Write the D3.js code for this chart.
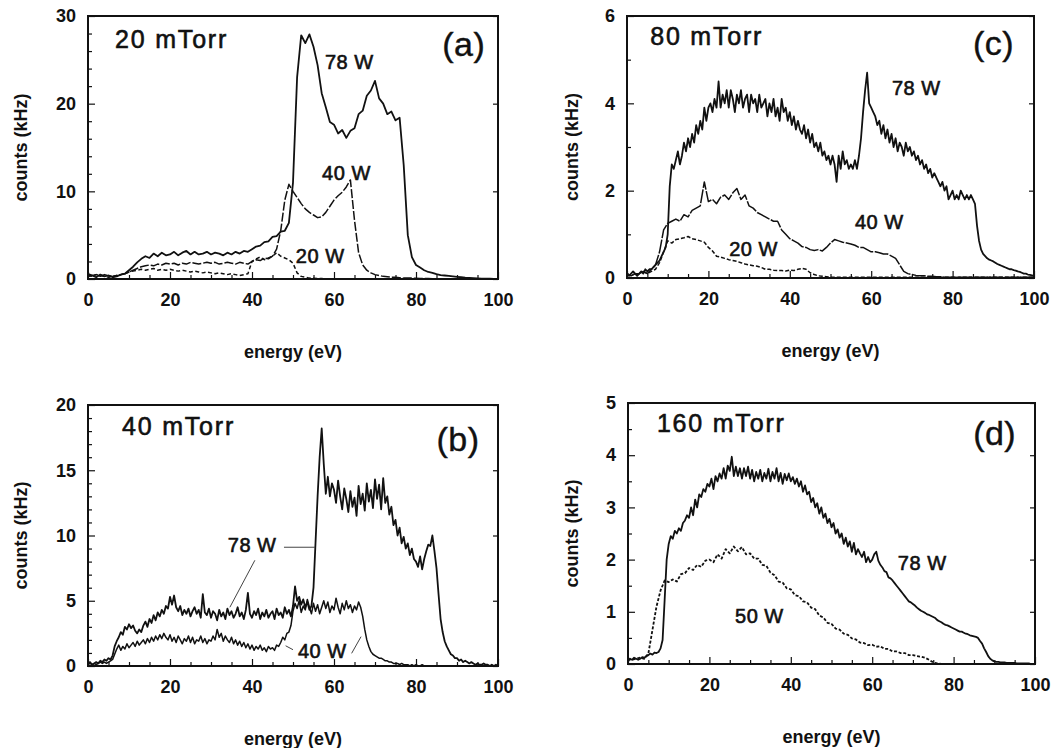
<!DOCTYPE html>
<html>
<head>
<meta charset="utf-8">
<script src="https://cdn.jsdelivr.net/npm/d3@7"></script>
<style>
  html, body { margin: 0; padding: 0; background: #fff; }
  svg { display: block; }
  text { font-family: "Liberation Sans", Arial, Helvetica, sans-serif; fill: #111; }
</style>
</head>
<body>
<svg id="chart" width="1055" height="748"></svg>
<script>
// Ion energy spectra: counts vs. energy at four pressures and several RF powers.

// energy channels (eV)
const energyCoarse = d3.range(0, 101, 1);
const energyFine = d3.range(0, 100.25, 0.5);

const xTicks = [0, 20, 40, 60, 80, 100];

// (a) 20 mTorr, 1 eV channels
const a78 = [0.3,0.4,0.2,0.5,0.3,0.4,0.2,0.3,0.5,0.6,
  1.0,1.4,1.9,2.3,2.6,2.4,2.9,2.6,3.0,2.7,
  2.8,3.1,2.7,3.0,3.2,2.8,3.1,2.8,2.9,3.1,
  2.8,3.0,2.9,2.7,3.0,2.8,3.1,2.9,3.2,3.1,
  3.4,3.7,3.8,4.2,4.3,4.8,4.9,5.4,5.5,6.4,
  11.0,23.0,27.8,26.9,27.9,26.5,24.4,21.2,19.6,17.9,
  17.6,16.6,17.0,16.1,16.9,17.2,18.8,19.2,20.9,21.5,
  22.6,20.6,20.0,18.8,19.1,18.1,18.4,13.0,5.0,2.5,
  1.6,1.3,1.0,0.8,0.7,0.55,0.45,0.4,0.35,0.3,
  0.25,0.2,0.15,0.12,0.1,0.08,0.05,0.05,0.03,0.02,0.0];
const a40 = [0.6,0.4,0.5,0.3,0.5,0.4,0.3,0.4,0.5,0.6,
  0.8,1.0,1.2,1.4,1.5,1.6,1.5,1.7,1.6,1.8,
  1.7,1.8,1.6,1.8,1.7,1.9,1.8,1.7,1.8,1.9,
  1.8,1.9,1.7,1.8,1.9,1.8,1.7,1.9,1.8,1.7,
  2.0,2.2,2.1,2.4,2.3,2.6,3.4,5.5,9.0,10.8,
  10.0,9.3,8.6,8.0,7.6,7.3,7.0,7.1,7.6,8.3,
  9.0,9.5,9.9,10.5,11.3,6.7,3.0,1.6,1.0,0.7,
  0.5,0.4,0.3,0.25,0.2,0.2,0.15,0.1,0.1,0.1,
  0.08,0.06,0.05,0.05,0.04,0.03,0.03,0.02,0.02,0.02,
  0.02,0.01,0.01,0.01,0.01,0.0,0.0,0.0,0.0,0.0,0.0];
const a20 = [0.4,0.3,0.5,0.4,0.3,0.2,0.3,0.4,0.5,0.6,
  0.8,0.9,1.0,1.1,1.0,1.1,1.2,1.0,1.1,1.0,
  1.1,1.0,0.9,1.0,0.9,0.8,0.9,0.8,0.7,0.8,
  0.7,0.6,0.7,0.6,0.5,0.6,0.5,0.4,0.5,0.6,
  2.0,2.3,2.5,2.2,2.4,2.6,3.0,2.6,2.4,2.2,
  1.8,0.7,0.3,0.2,0.1,0.1,0.05,0.05,0.0,0.0,
  0,0,0,0,0,0,0,0,0,0,
  0,0,0,0,0,0,0,0,0,0,
  0,0,0,0,0,0,0,0,0,0,
  0,0,0,0,0,0,0,0,0,0,0];

// (b) 40 mTorr, 0.5 eV channels
const b78 = [0.2,0.3,0.1,0.2,0.3,0.2,0.4,0.3,0.5,0.4,
  0.6,0.5,0.8,1.5,1.9,2.2,2.6,2.4,3.0,2.8,
  3.2,2.9,3.1,2.7,2.5,2.8,2.6,3.1,3.4,3.0,
  3.6,3.3,3.9,3.5,4.1,3.8,4.3,4.0,4.6,4.4,
  5.3,4.7,5.4,4.5,4.2,4.6,3.9,4.3,4.0,4.4,
  3.8,4.2,4.5,4.0,4.3,3.7,5.5,4.1,3.9,4.4,
  3.7,4.2,4.0,3.5,4.3,3.8,4.1,3.6,4.4,3.9,
  4.2,3.7,4.0,4.5,3.8,4.1,3.6,4.3,5.6,4.0,
  3.7,4.2,3.9,4.4,3.6,4.1,3.8,4.3,3.7,4.0,
  4.2,3.6,4.4,3.9,4.1,3.7,4.5,4.0,4.3,3.8,
  4.6,6.1,5.0,5.3,4.7,5.1,4.5,4.9,4.3,4.6,
  6.0,9.5,13.0,16.0,18.2,15.5,13.2,14.5,13.0,14.0,
  13.5,12.5,14.2,13.0,12.0,13.6,12.8,11.8,13.4,12.2,
  12.9,11.5,13.8,12.4,13.2,11.9,14.0,12.6,13.5,12.1,
  14.3,12.8,13.9,12.0,14.4,12.5,13.0,11.6,12.2,10.8,
  11.2,10.0,10.6,9.4,9.9,9.0,9.4,8.5,9.0,8.2,
  8.0,7.6,8.4,7.4,8.2,8.8,9.3,9.2,10.0,8.8,
  7.5,5.5,3.6,2.6,1.9,1.5,1.2,0.9,0.8,0.6,
  0.6,0.4,0.5,0.3,0.4,0.3,0.2,0.3,0.2,0.1,
  0.2,0.1,0.1,0.2,0.1,0.1,0.0,0.1,0.0,0.1,
  0.0];
const b40 = [0.1,0.2,0.1,0.2,0.1,0.2,0.3,0.2,0.3,0.2,
  0.3,0.4,0.5,0.9,1.3,1.6,1.2,1.5,1.3,1.7,
  1.4,1.6,1.8,1.5,1.9,1.6,1.8,2.0,1.7,2.1,
  1.8,2.2,1.9,2.3,2.0,2.4,2.1,2.5,2.2,2.0,
  2.4,1.9,2.2,1.8,2.3,2.0,1.7,2.1,1.9,2.3,
  1.8,2.2,1.7,2.0,1.9,2.3,1.8,2.1,1.7,2.0,
  1.9,2.3,2.0,2.8,2.2,2.5,1.9,2.3,2.0,1.8,
  2.2,1.7,2.0,1.6,1.9,1.5,1.8,1.4,1.7,1.3,
  1.6,1.2,1.5,1.3,1.6,1.2,1.4,1.1,1.5,1.3,
  1.4,1.2,1.6,1.5,1.8,2.2,2.0,2.5,2.6,3.1,
  4.2,4.8,4.4,5.0,4.1,4.6,4.3,5.1,4.5,4.0,
  4.8,4.2,4.7,4.0,4.5,5.0,4.4,4.9,4.1,4.6,
  4.3,5.2,4.5,4.0,4.8,4.3,5.0,4.4,4.7,4.1,
  4.6,4.3,4.9,4.5,3.8,2.8,2.0,1.5,1.1,0.9,
  0.8,0.7,0.6,0.6,0.5,0.4,0.4,0.3,0.3,0.2,
  0.2,0.2,0.1,0.2,0.1,0.1,0.1,0.0,0.1,0.0,
  0.1,0.0,0.0,0.1,0.0,0.0,0.0,0.0,0.0,0.0,
  0,0,0,0,0,0,0,0,0,0,
  0,0,0,0,0,0,0,0,0,0,
  0,0,0,0,0,0,0,0,0,0,
  0];

// (c) 80 mTorr
const c78 = [0.1,0.05,0.1,0.15,0.1,0.05,0.1,0.15,0.1,0.2,
  0.15,0.2,0.2,0.25,0.3,0.35,0.4,0.5,0.6,0.7,
  1.0,2.1,2.6,2.5,2.7,2.9,2.6,2.8,3.1,2.9,
  3.2,3.0,3.3,3.1,3.5,3.3,3.6,3.4,3.9,3.6,
  3.9,4.0,3.8,4.1,3.9,4.5,3.9,4.2,4.0,4.3,
  3.9,4.3,4.1,3.8,4.2,4.0,4.3,3.9,4.1,4.2,
  3.8,4.2,4.0,4.1,3.8,4.2,3.9,4.0,4.1,3.7,
  4.0,3.8,4.1,3.7,3.9,3.6,4.1,3.8,3.9,3.6,
  3.8,3.5,3.7,3.4,3.6,3.4,3.3,3.5,3.2,3.4,
  3.1,3.3,3.0,3.1,2.9,3.1,2.8,2.9,2.7,2.8,
  2.6,2.8,2.6,2.2,2.8,2.5,2.9,2.6,2.7,2.5,
  2.6,2.5,2.7,2.5,2.8,3.2,3.8,4.3,4.7,4.0,
  3.9,3.8,3.7,3.5,3.6,3.3,3.5,3.2,3.4,3.1,
  3.3,3.0,3.2,2.9,3.1,3.0,2.8,3.1,2.9,3.0,
  2.8,2.9,2.7,2.8,2.6,2.7,2.5,2.6,2.4,2.5,
  2.3,2.4,2.3,2.2,2.1,2.2,2.0,2.1,1.8,1.9,
  2.0,1.8,1.9,1.8,2.0,1.9,1.8,1.9,1.8,1.9,
  1.8,1.7,1.2,0.85,0.65,0.55,0.5,0.45,0.42,0.4,
  0.38,0.35,0.32,0.3,0.28,0.26,0.24,0.22,0.2,0.2,
  0.18,0.17,0.15,0.14,0.12,0.1,0.1,0.08,0.07,0.06,
  0.05];
const c40 = [0.1,0.05,0.1,0.1,0.15,0.1,0.2,0.3,0.6,1.1,
  1.25,1.3,1.35,1.3,1.45,1.4,1.55,1.6,1.65,2.2,
  1.75,1.8,1.7,1.85,1.9,1.8,1.95,2.05,1.8,1.9,
  1.65,1.6,1.5,1.45,1.4,1.35,1.3,1.3,1.1,1.0,
  0.9,0.85,0.8,0.72,0.7,0.65,0.63,0.65,0.62,0.7,
  0.8,0.88,0.85,0.82,0.8,0.78,0.75,0.7,0.7,0.65,
  0.6,0.6,0.58,0.55,0.55,0.5,0.45,0.3,0.15,0.1,
  0.08,0.06,0.05,0.05,0.04,0.04,0.03,0.03,0.02,0.02,
  0.02,0.02,0.02,0.02,0.02,0.02,0.02,0.02,0.02,0.02,
  0.02,0.02,0.02,0.02,0.02,0.02,0.02,0.02,0.02,0.02,0.02];
const c20 = [0.1,0.05,0.1,0.1,0.15,0.1,0.15,0.2,0.35,0.6,
  0.85,0.8,0.88,0.9,0.92,0.95,0.9,0.88,0.85,0.82,
  0.7,0.62,0.5,0.48,0.45,0.42,0.4,0.38,0.35,0.32,
  0.3,0.28,0.27,0.24,0.2,0.2,0.18,0.17,0.17,0.16,
  0.18,0.17,0.2,0.22,0.2,0.12,0.08,0.05,0.04,0.03,
  0.02,0.02,0.02,0.02,0.02,0.02,0.02,0.02,0.02,0.02,
  0.02,0.02,0.02,0.02,0.02,0.02,0.02,0.02,0.02,0.02,
  0.02,0.02,0.02,0.02,0.02,0.02,0.02,0.02,0.02,0.02,
  0.02,0.02,0.02,0.02,0.02,0.02,0.02,0.02,0.02,0.02,
  0.02,0.02,0.02,0.02,0.02,0.02,0.02,0.02,0.02,0.02,0.02];

// (d) 160 mTorr
const d78 = [0.05,0.1,0.08,0.12,0.1,0.08,0.1,0.13,0.12,0.15,
  0.17,0.2,0.18,0.22,0.21,0.23,0.3,0.46,1.22,2.0,
  2.3,2.45,2.4,2.55,2.5,2.6,2.55,2.7,2.75,2.85,
  2.8,3.0,2.85,3.15,3.0,3.25,3.2,3.35,3.3,3.45,
  3.4,3.55,3.35,3.6,3.5,3.65,3.55,3.75,3.55,3.8,
  3.7,3.97,3.6,3.78,3.6,3.75,3.55,3.75,3.6,3.78,
  3.55,3.72,3.5,3.68,3.55,3.72,3.5,3.66,3.55,3.74,
  3.5,3.68,3.55,3.75,3.5,3.66,3.45,3.64,3.52,3.65,
  3.5,3.58,3.45,3.55,3.4,3.5,3.3,3.42,3.25,3.3,
  3.1,3.18,3.0,3.08,2.88,3.0,2.8,2.88,2.7,2.78,
  2.62,2.7,2.5,2.58,2.42,2.5,2.3,2.42,2.25,2.35,
  2.15,2.32,2.1,2.2,2.12,2.05,2.15,1.95,2.05,1.95,
  2.0,2.1,2.15,1.98,1.9,1.85,1.78,1.76,1.66,1.64,
  1.6,1.55,1.5,1.45,1.4,1.35,1.3,1.25,1.2,1.18,
  1.15,1.12,1.08,1.05,1.02,1.0,0.98,0.95,0.94,0.92,
  0.9,0.88,0.84,0.82,0.8,0.77,0.75,0.74,0.72,0.7,
  0.68,0.66,0.64,0.62,0.62,0.6,0.58,0.57,0.55,0.54,
  0.53,0.52,0.5,0.44,0.39,0.3,0.23,0.15,0.1,0.07,
  0.05,0.04,0.04,0.03,0.03,0.03,0.02,0.02,0.02,0.02,
  0.02,0.01,0.01,0.01,0.01,0.01,0.01,0.01,0.0,0.0,
  0.0];
const d50 = [0.1,0.08,0.1,0.12,0.1,0.2,0.65,1.1,1.41,1.6,
  1.57,1.62,1.58,1.72,1.74,1.84,1.8,1.9,1.86,1.98,
  2.0,1.95,2.1,2.02,2.2,2.12,2.25,2.16,2.24,2.1,
  2.12,2.02,2.02,1.9,1.88,1.75,1.7,1.58,1.56,1.45,
  1.43,1.32,1.3,1.2,1.18,1.08,1.05,0.93,0.89,0.79,
  0.77,0.68,0.66,0.58,0.56,0.49,0.47,0.41,0.4,0.36,
  0.37,0.33,0.34,0.29,0.29,0.24,0.24,0.21,0.21,0.17,
  0.17,0.15,0.14,0.12,0.08,0.03,0.01,0,0,0,
  0,0,0,0,0,0,0,0,0,0,
  0,0,0,0,0,0,0,0,0,0,0];

// panel definitions built from the arrays above
const panels = [
  { key: "a", box: [88, 16, 498, 279], yMax: 30, yMajor: [0, 10, 20, 30], yMinorStep: 2, yTitleX: 27,
    series: [
      { energy: energyCoarse, counts: a78, dash: null, width: 1.8 },
      { energy: energyCoarse, counts: a40, dash: "9,2", width: 1.5 },
      { energy: energyCoarse, counts: a20, dash: "4,2.5", width: 1.5 } ],
    labels: [
      { t: "20 mTorr", e: 6.6, v: 26.3, cls: "title" },
      { t: "(a)", e: 86.4, v: 25.4, cls: "tag" },
      { t: "78 W", e: 57.8, v: 24.0, cls: "pw" },
      { t: "40 W", e: 57.1, v: 11.3, cls: "pw" },
      { t: "20 W", e: 50.7, v: 1.8, cls: "pw" } ],
    leaders: [] },
  { key: "b", box: [88, 405, 498, 666], yMax: 20, yMajor: [0, 5, 10, 15, 20], yMinorStep: 1, yTitleX: 27,
    series: [
      { energy: energyFine, counts: b78, dash: null, width: 1.8 },
      { energy: energyFine, counts: b40, dash: null, width: 1.5 } ],
    labels: [
      { t: "40 mTorr", e: 8.3, v: 17.7, cls: "title" },
      { t: "(b)", e: 85.0, v: 16.5, cls: "tag" },
      { t: "78 W", e: 34.1, v: 8.7, cls: "pw" },
      { t: "40 W", e: 51.2, v: 0.6, cls: "pw" } ],
    leaders: [
      [[47.8, 9.1], [55.4, 9.1]],
      [[40.7, 8.1], [34.6, 4.5]],
      [[48.2, 1.55], [50.0, 1.25]],
      [[64.3, 0.97], [66.6, 2.25]] ] },
  { key: "c", box: [627, 16, 1034, 278], yMax: 6, yMajor: [0, 2, 4, 6], yMinorStep: 1, yTitleX: 578,
    series: [
      { energy: energyFine, counts: c78, dash: null, width: 1.8 },
      { energy: energyCoarse, counts: c40, dash: "14,1.5", width: 1.5 },
      { energy: energyCoarse, counts: c20, dash: "4,2", width: 1.5 } ],
    labels: [
      { t: "80 mTorr", e: 5.7, v: 5.34, cls: "title" },
      { t: "(c)", e: 85.0, v: 5.1, cls: "tag" },
      { t: "78 W", e: 65.1, v: 4.2, cls: "pw" },
      { t: "40 W", e: 56.0, v: 1.12, cls: "pw" },
      { t: "20 W", e: 25.1, v: 0.5, cls: "pw" } ],
    leaders: [] },
  { key: "d", box: [628, 403, 1035, 664], yMax: 5, yMajor: [0, 1, 2, 3, 4, 5], yMinorStep: 0.5, yTitleX: 578,
    series: [
      { energy: energyFine, counts: d78, dash: null, width: 1.8 },
      { energy: energyCoarse, counts: d50, dash: "3,1.8", width: 1.8 } ],
    labels: [
      { t: "160 mTorr", e: 7.1, v: 4.44, cls: "title" },
      { t: "(d)", e: 84.8, v: 4.2, cls: "tag" },
      { t: "78 W", e: 66.3, v: 1.8, cls: "pw" },
      { t: "50 W", e: 26.3, v: 0.79, cls: "pw" } ],
    leaders: [] }
];

const svg = d3.select("#chart");
const font = "'Liberation Sans', Arial, Helvetica, sans-serif";

panels.forEach(p => {
  const [x0, y0, x1, y1] = p.box;
  const x = d3.scaleLinear().domain([0, 100]).range([x0, x1]);
  const y = d3.scaleLinear().domain([0, p.yMax]).range([y1, y0]);
  const g = svg.append("g").attr("class", "panel-" + p.key);

  const clipId = "clip-" + p.key;
  svg.append("clipPath").attr("id", clipId)
    .append("rect").attr("x", x0).attr("y", y0).attr("width", x1 - x0).attr("height", y1 - y0);

  // minor ticks (inside)
  const xMinor = d3.range(0, 100.01, 5).filter(v => v % 20 !== 0);
  const yMinor = d3.range(0, p.yMax + 1e-9, p.yMinorStep).filter(v => !p.yMajor.some(m => Math.abs(m - v) < 1e-9));

  g.append("g").attr("transform", `translate(0,${y1})`)
    .call(d3.axisBottom(x).tickValues(xMinor).tickSize(-4).tickFormat(""))
    .call(s => s.select(".domain").remove());
  g.append("g").attr("transform", `translate(${x0},0)`)
    .call(d3.axisLeft(y).tickValues(yMinor).tickSize(-4).tickFormat(""))
    .call(s => s.select(".domain").remove());

  // major ticks with labels
  g.append("g").attr("transform", `translate(0,${y1})`)
    .call(d3.axisBottom(x).tickValues(xTicks).tickSize(-7).tickPadding(14).tickFormat(d3.format("d")))
    .call(s => s.select(".domain").remove())
    .call(s => s.selectAll("text").attr("font-family", font).attr("font-size", 18).attr("font-weight", "bold").attr("fill", "#111"));
  g.append("g").attr("transform", `translate(${x0},0)`)
    .call(d3.axisLeft(y).tickValues(p.yMajor).tickSize(-7).tickPadding(12).tickFormat(d3.format("d")))
    .call(s => s.select(".domain").remove())
    .call(s => s.selectAll("text").attr("font-family", font).attr("font-size", 18).attr("font-weight", "bold").attr("fill", "#111"));

  // mirrored ticks on the right edge
  g.append("g").attr("transform", `translate(${x1},0)`)
    .call(d3.axisRight(y).tickValues(p.yMajor).tickSize(-5).tickFormat(""))
    .call(s => s.select(".domain").remove());

  g.selectAll(".tick line").attr("stroke", "#111").attr("stroke-width", 1.2);

  // curves
  const plot = g.append("g").attr("clip-path", `url(#${clipId})`);
  p.series.forEach(s => {
    const pts = s.energy.map((e, i) => [e, s.counts[i]]);
    const line = d3.line().x(d => x(d[0])).y(d => y(d[1]));
    plot.append("path")
      .datum(pts)
      .attr("d", line)
      .attr("fill", "none")
      .attr("stroke", "#111")
      .attr("stroke-width", s.width)
      .attr("stroke-linejoin", "round")
      .attr("stroke-dasharray", s.dash);
  });

  // leader lines
  p.leaders.forEach(l => {
    g.append("line")
      .attr("x1", x(l[0][0])).attr("y1", y(l[0][1]))
      .attr("x2", x(l[1][0])).attr("y2", y(l[1][1]))
      .attr("stroke", "#444").attr("stroke-width", 1);
  });

  // frame
  g.append("rect")
    .attr("x", x0).attr("y", y0).attr("width", x1 - x0).attr("height", y1 - y0)
    .attr("fill", "none").attr("stroke", "#111").attr("stroke-width", 2);

  // annotations
  p.labels.forEach(l => {
    const sz = l.cls === "title" ? 25 : l.cls === "tag" ? 34 : 20;
    g.append("text")
      .attr("x", x(l.e)).attr("y", y(l.v))
      .attr("font-family", font)
      .attr("font-size", sz)
      .attr("letter-spacing", l.cls === "title" ? 1.8 : 0.5)
      .attr("stroke", "#111")
      .attr("stroke-width", l.cls === "tag" ? 0.4 : 0.6)
      .text(l.t);
  });

  // axis titles
  g.append("text")
    .attr("x", (x0 + x1) / 2).attr("y", y1 + 79)
    .attr("text-anchor", "middle")
    .attr("font-family", font).attr("font-size", 18).attr("font-weight", "bold")
    .text("energy (eV)");
  g.append("text")
    .attr("transform", `translate(${p.yTitleX},${(y0 + y1) / 2}) rotate(-90)`)
    .attr("text-anchor", "middle")
    .attr("font-family", font).attr("font-size", 18).attr("font-weight", "bold")
    .text("counts (kHz)");
});
</script>
</body>
</html>
